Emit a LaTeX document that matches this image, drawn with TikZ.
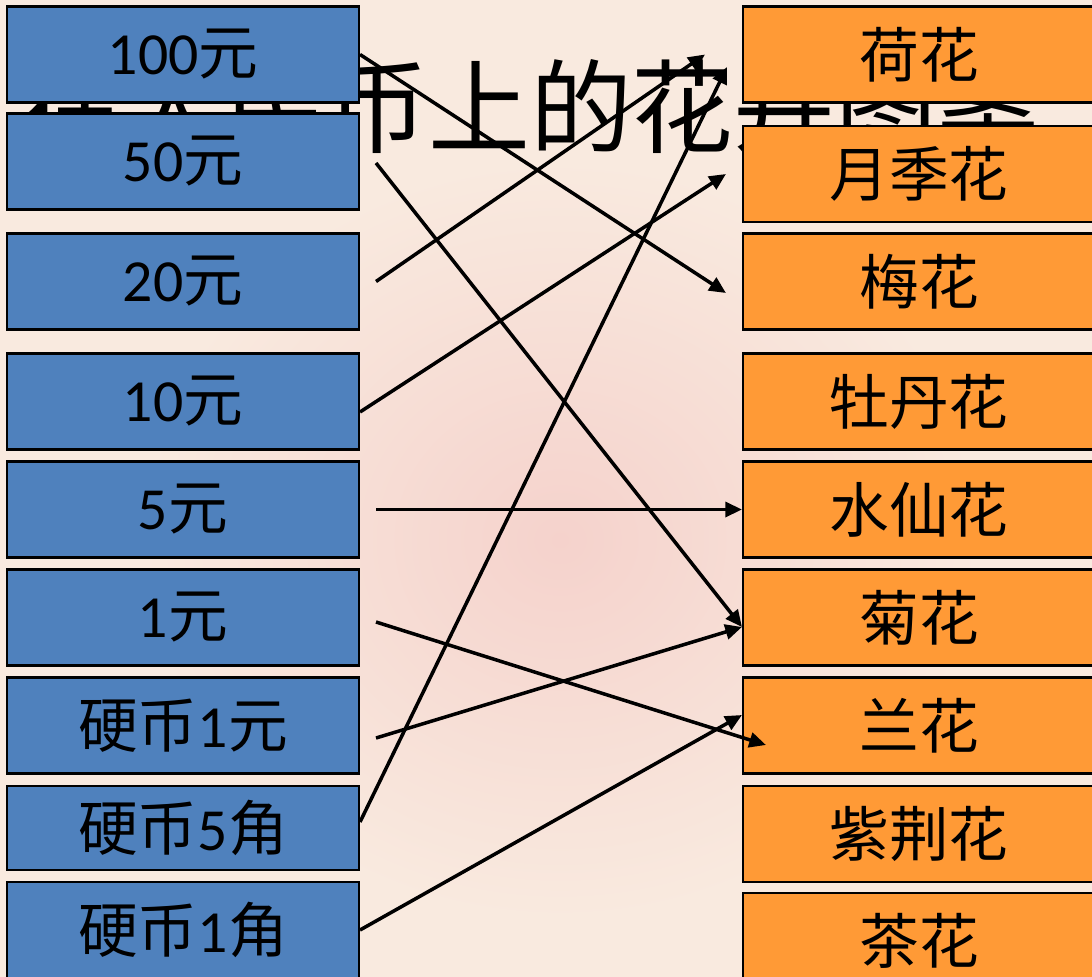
\documentclass[tikz,border=0pt]{standalone}
\usepackage{fontspec}
\setmainfont{Carlito}
\newfontfamily\cjk{Noto Sans CJK SC}
\usetikzlibrary{arrows.meta,calc}
\definecolor{bluebox}{HTML}{4F81BD}
\definecolor{orangebox}{HTML}{FF9A36}
\definecolor{paper}{HTML}{F9EADF}
\definecolor{blush}{HTML}{F5D2CC}
\begin{document}
\begin{tikzpicture}[x=0.02cm,y=-0.02cm,
    money/.style={draw=black,line width=1.2pt,fill=bluebox,minimum width=7.04cm,minimum height=1.92cm,inner sep=0pt,font=\fontsize{34}{38}\selectfont},
    flower/.style={money,fill=orangebox,font=\cjk\fontsize{34}{38}\selectfont},
    arr/.style={line width=2pt,-{Triangle[length=9.5pt,width=8.5pt]}}]
    \useasboundingbox (0,0) rectangle (1092,977);
    \clip (0,0) rectangle (1092,977);
    % background
    \fill[paper] (0,0) rectangle (1092,977);
    \shade[inner color=blush,outer color=paper] (560,540) ellipse [x radius=420,y radius=380];
    \node[font=\cjk\fontsize{58}{60}\selectfont,inner sep=0pt] (title) at (530,107) {在人民币上的花卉图案};
    % notes and coins
    \node[money] (y100) at (183,54.5) {100\cjk 元};
    \node[money] (y50) at (183,161.5) {50\cjk 元};
    \node[money] (y20) at (183,281.5) {20\cjk 元};
    \node[money] (y10) at (183,401.5) {10\cjk 元};
    \node[money] (y5) at (183,509.5) {5\cjk 元};
    \node[money] (y1) at (183,617.5) {1\cjk 元};
    \node[money] (coin1) at (183,725.5) {{\cjk 硬币}1\cjk 元};
    \node[money,minimum height=1.68cm] (coin5) at (183,828) {{\cjk 硬币}5\cjk 角};
    \node[money] (coin01) at (183,930) {{\cjk 硬币}1\cjk 角};
    % flowers
    \node[flower] (he) at (919,54.5) {荷花};
    \node[flower] (yueji) at (919,174) {月季花};
    \node[flower] (mei) at (919,281.5) {梅花};
    \node[flower] (mudan) at (919,401.5) {牡丹花};
    \node[flower] (shuixian) at (919,509.5) {水仙花};
    \node[flower] (ju) at (919,617.5) {菊花};
    \node[flower] (lan) at (919,725.5) {兰花};
    \node[flower] (zijing) at (919,834) {紫荆花};
    \node[flower] (cha) at (919,941) {茶花};
    \path[arr] (y100.east) edge ($(mei.west)+(-16,11.5)$);
    \path[arr] ($(y50.east)+(16,1.5)$) edge ($(ju.west)+(0,9.5)$);
    \path[arr] ($(y20.east)+(16,0)$) edge ($(he.west)+(-37,0)$);
    \path[arr] ($(y10.east)+(0,10.5)$) edge ($(yueji.west)+(-16,0)$);
    \path[arr] ($(y5.east)+(16,0)$) edge (shuixian.west);
    \path[arr] ($(y1.east)+(16,4.5)$) edge ($(lan.west)+(24,19.5)$);
    \path[arr] ($(coin1.east)+(16,12.5)$) edge ($(ju.west)+(0,9.5)$);
    \path[arr] ($(coin5.east)+(0,-6)$) edge ($(he.west)+(-15,12.5)$);
    \path[arr] (coin01.east) edge ($(lan.west)+(0,-10.5)$);
\end{tikzpicture}
\end{document}
